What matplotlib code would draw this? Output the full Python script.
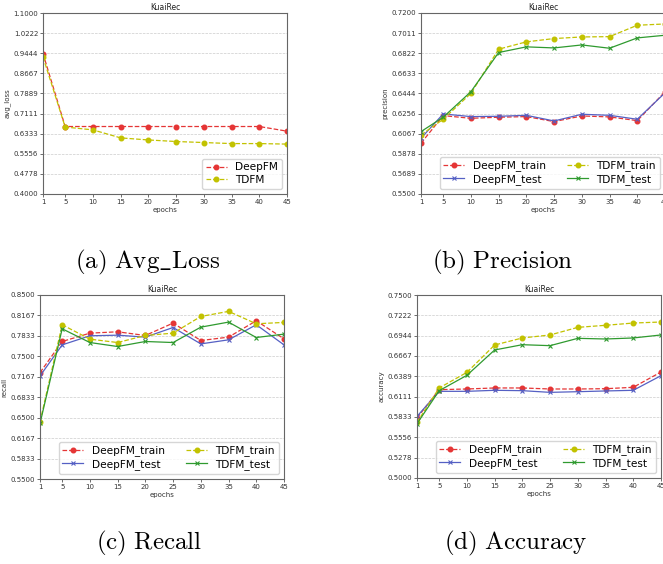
import numpy as np
import matplotlib
matplotlib.use('Agg')
import matplotlib.pyplot as plt

plt.rcParams['mathtext.fontset'] = 'cm'

epochs = [1, 5, 10, 15, 20, 25, 30, 35, 40, 45]

# avg loss
loss_deepfm = [0.943, 0.661, 0.661, 0.661, 0.661, 0.661, 0.661, 0.661, 0.661, 0.643]
loss_tdfm = [0.930, 0.659, 0.648, 0.617, 0.609, 0.603, 0.599, 0.595, 0.595, 0.593]

# precision
prec_deepfm_train = [0.5977, 0.6236, 0.6211, 0.6221, 0.6227, 0.6180, 0.6233, 0.6224, 0.6189, 0.6460]
prec_deepfm_test = [0.6024, 0.6252, 0.6227, 0.6230, 0.6239, 0.6186, 0.6249, 0.6239, 0.6202, 0.6450]
prec_tdfm_train = [0.6055, 0.6202, 0.6445, 0.6860, 0.6929, 0.6960, 0.6975, 0.6978, 0.7085, 0.7097]
prec_tdfm_test = [0.6086, 0.6221, 0.6461, 0.6829, 0.6882, 0.6872, 0.6900, 0.6869, 0.6966, 0.6991]

# recall
rec_deepfm_train = [0.7235, 0.7742, 0.7878, 0.7900, 0.7840, 0.8042, 0.7758, 0.7813, 0.8080, 0.7785]
rec_deepfm_test = [0.7180, 0.7687, 0.7835, 0.7845, 0.7813, 0.7970, 0.7703, 0.7769, 0.8015, 0.7687]
rec_tdfm_train = [0.6433, 0.8015, 0.7780, 0.7725, 0.7840, 0.7878, 0.8150, 0.8233, 0.8031, 0.8053]
rec_tdfm_test = [0.6405, 0.7949, 0.7725, 0.7660, 0.7742, 0.7725, 0.7976, 0.8058, 0.7807, 0.7862]

# accuracy
acc_deepfm_train = [0.5820, 0.6207, 0.6216, 0.6230, 0.6230, 0.6216, 0.6216, 0.6220, 0.6239, 0.6448]
acc_deepfm_test = [0.5842, 0.6184, 0.6184, 0.6198, 0.6193, 0.6170, 0.6179, 0.6189, 0.6198, 0.6398]
acc_tdfm_train = [0.5760, 0.6230, 0.6443, 0.6817, 0.6913, 0.6954, 0.7058, 0.7086, 0.7117, 0.7131]
acc_tdfm_test = [0.5742, 0.6193, 0.6403, 0.6749, 0.6821, 0.6808, 0.6908, 0.6899, 0.6913, 0.6954]

RED = '#e53535'
YEL = '#c2c200'
BLUE = '#5560c4'
GREEN = '#2f9a2f'


def style_axes(ax, ylo, yhi, ylabel):
    ax.set_xlim(1, 45)
    ax.set_ylim(ylo, yhi)
    ax.set_xticks([1, 5, 10, 15, 20, 25, 30, 35, 40, 45])
    ticks = np.linspace(ylo, yhi, 10)
    ax.set_yticks(ticks)
    ax.set_yticklabels(['%.4f' % t for t in ticks])
    ax.tick_params(labelsize=5, length=2, width=0.5, pad=1.5, colors='#333333')
    ax.yaxis.grid(True, linestyle='--', color='#cccccc', linewidth=0.5)
    ax.set_axisbelow(True)
    for s in ax.spines.values():
        s.set_color('#666666')
        s.set_linewidth(0.8)
    ax.set_title('KuaiRec', fontsize=5.5, pad=2, color='#222222')
    ax.set_xlabel('epochs', fontsize=5, labelpad=1.5, color='#333333')
    ax.set_ylabel(ylabel, fontsize=5, labelpad=2, color='#333333')


def four_lines(ax, a, b, c, d):
    ax.plot(epochs, a, '--o', color=RED, lw=0.9, ms=3.3, label='DeepFM_train')
    ax.plot(epochs, b, '-x', color=BLUE, lw=0.9, ms=3, mew=0.8, label='DeepFM_test')
    ax.plot(epochs, c, '--o', color=YEL, lw=0.9, ms=3.3, label='TDFM_train')
    ax.plot(epochs, d, '-x', color=GREEN, lw=0.9, ms=3, mew=0.8, label='TDFM_test')
    ax.legend(loc='lower right', ncol=2, fontsize=7.6, handlelength=2.0,
              borderpad=0.35, labelspacing=0.25, columnspacing=2.0, handletextpad=0.8)


W, H = 663, 564
fig = plt.figure(figsize=(W / 100, H / 100), dpi=100)

def box(l, r, t, b):
    return [l / W, 1 - b / H, (r - l) / W, (b - t) / H]

ax1 = fig.add_axes(box(43, 287, 13, 194))
ax2 = fig.add_axes(box(421, 665, 13, 194))
ax3 = fig.add_axes(box(40, 284, 295, 479))
ax4 = fig.add_axes(box(417, 661, 295, 478))

ax1.plot(epochs, loss_deepfm, '--o', color=RED, lw=0.9, ms=3.3, label='DeepFM')
ax1.plot(epochs, loss_tdfm, '--o', color=YEL, lw=0.9, ms=3.3, label='TDFM')
ax1.legend(loc='lower right', fontsize=7.6, borderpad=0.35, labelspacing=0.25, handletextpad=0.8)
style_axes(ax1, 0.4, 1.1, 'avg_loss')

four_lines(ax2, prec_deepfm_train, prec_deepfm_test, prec_tdfm_train, prec_tdfm_test)
style_axes(ax2, 0.55, 0.72, 'precision')

four_lines(ax3, rec_deepfm_train, rec_deepfm_test, rec_tdfm_train, rec_tdfm_test)
style_axes(ax3, 0.55, 0.85, 'recall')

four_lines(ax4, acc_deepfm_train, acc_deepfm_test, acc_tdfm_train, acc_tdfm_test)
style_axes(ax4, 0.5, 0.75, 'accuracy')

captions = [(148, 262, r'$\mathrm{(a)\ Avg\_Loss}$'),
            (503, 262, r'$\mathrm{(b)\ Precision}$'),
            (149, 543, r'$\mathrm{(c)\ Recall}$'),
            (516, 543, r'$\mathrm{(d)\ Accuracy}$')]
for x, y, txt in captions:
    fig.text(x / W, 1 - y / H, txt, fontsize=18, ha='center', va='center')

fig.savefig('out.png', dpi=100)
